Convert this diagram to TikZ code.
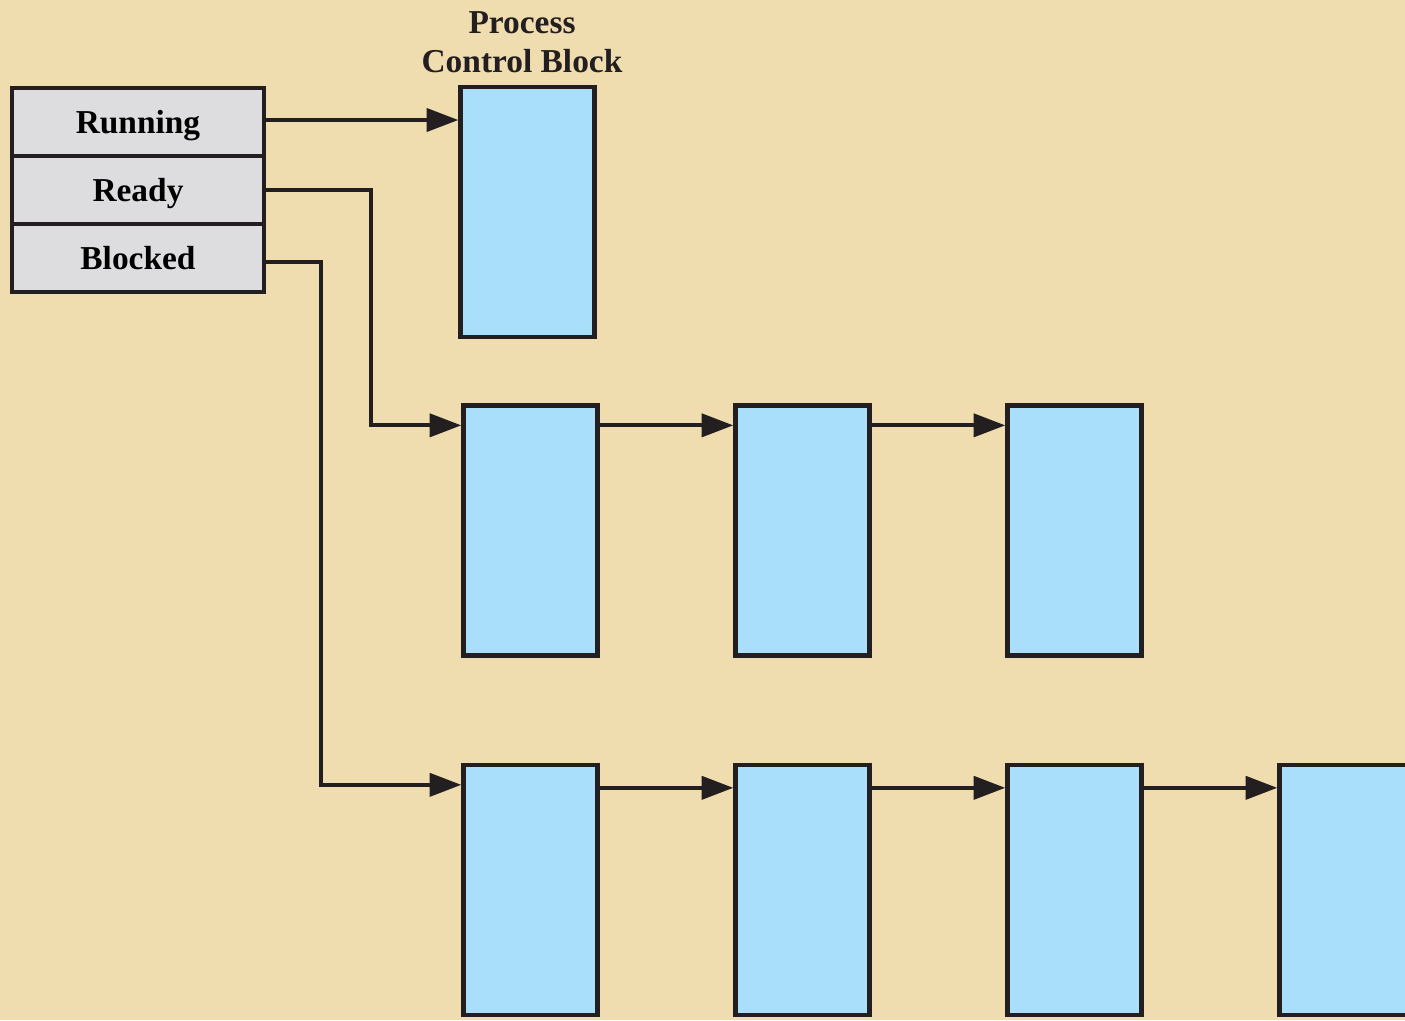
\documentclass[tikz,border=0pt]{standalone}
\usepackage{fontspec}
\setmainfont{Liberation Serif}
\usetikzlibrary{arrows.meta}
\definecolor{paper}{RGB}{239,220,175}
\definecolor{pcbblue}{RGB}{169,223,250}
\definecolor{stgray}{RGB}{221,221,224}
\definecolor{ink}{RGB}{35,31,32}
\tikzset{
  pcb/.style={draw=ink,fill=pcbblue,line width=1.2pt,minimum width=1.34cm,minimum height=2.5cm,inner sep=0pt},
  state/.style={draw=ink,fill=stgray,line width=1.2pt,minimum width=2.52cm,minimum height=0.68cm,inner sep=0pt,
    text height=6.3pt,text depth=0pt,font=\fontsize{9.5}{11}\selectfont\bfseries},
  arr/.style={draw=ink,line width=1.2pt,-{Triangle[length=9pt,width=6.5pt]}}
}
\begin{document}
\begin{tikzpicture}[x=0.01cm,y=-0.01cm]
\useasboundingbox (0,0) rectangle (1405,1020);
\clip (0,0) rectangle (1405,1020);
\fill[paper] (0,0) rectangle (1405,1020);

\node[align=center,font=\fontsize{9.5}{11.1}\selectfont\bfseries,text=ink] (ttl) at (522,42) {Process\\Control Block};

\node[state] (run) at (138,122) {Running};
\node[state] (rdy) at (138,190) {Ready};
\node[state] (blk) at (138,258) {Blocked};

\node[pcb] (pcbRun) at (527.5,212) {};

\node[pcb] (rdyA) at (530.5,530.5) {};
\node[pcb] (rdyB) at (802.5,530.5) {};
\node[pcb] (rdyC) at (1074.5,530.5) {};

\node[pcb] (blkA) at (530.5,890) {};
\node[pcb] (blkB) at (802.5,890) {};
\node[pcb] (blkC) at (1074.5,890) {};
\node[pcb] (blkD) at (1346.5,890) {};

\draw[arr] ([yshift=0.02cm]run.east) -- ([yshift=0.02cm]run.east -| pcbRun.west);
\draw[arr] (rdy.east) -- ++(105,0) |- ([yshift=-0.22cm]rdyA.north west);
\draw[arr] ([yshift=-0.04cm]blk.east) -- ++(55,0) |- ([yshift=-0.22cm]blkA.north west);

\draw[arr] ([yshift=-0.22cm]rdyA.north east) -- ([yshift=-0.22cm]rdyB.north west);
\draw[arr] ([yshift=-0.22cm]rdyB.north east) -- ([yshift=-0.22cm]rdyC.north west);

\draw[arr] ([yshift=-0.25cm]blkA.north east) -- ([yshift=-0.25cm]blkB.north west);
\draw[arr] ([yshift=-0.25cm]blkB.north east) -- ([yshift=-0.25cm]blkC.north west);
\draw[arr] ([yshift=-0.25cm]blkC.north east) -- ([yshift=-0.25cm]blkD.north west);
\end{tikzpicture}
\end{document}
